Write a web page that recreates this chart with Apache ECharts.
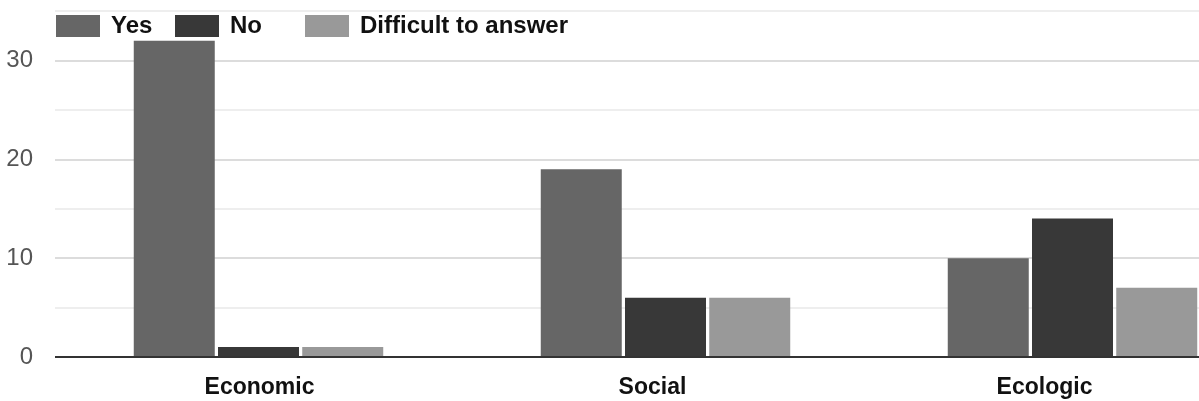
<!DOCTYPE html>
<html>
<head>
<meta charset="utf-8">
<script src="https://cdn.jsdelivr.net/npm/echarts@6/dist/echarts.min.js"></script>
<style>
  html, body { margin: 0; padding: 0; background: #fff; }
  #chart { width: 1199px; height: 401px; }
</style>
</head>
<body>
<div id="chart"></div>
<script>
const categories = ['Economic', 'Social', 'Ecologic'];
const seriesNames = ['Yes', 'No', 'Difficult to answer'];
const yesValues = [32, 19, 10];
const noValues = [1, 6, 14];
const difficultValues = [1, 6, 7];
const yTickLabels = ['0', '10', '20', '30'];

const colors = ['#666666', '#383838', '#999999'];
const legendLefts = [56, 175, 305];

const chart = echarts.init(document.getElementById('chart'));

const legendFont = {
  fontFamily: 'Liberation Sans',
  fontWeight: 'bold',
  fontSize: 24,
  color: '#111',
  padding: [0, 0, 0, 6]
};

// category labels sit slightly left of their group centre towards the right
const catLabelBase = {
  fontFamily: 'Liberation Sans',
  fontWeight: 'bold',
  fontSize: 23,
  color: '#111'
};
const catLabelStyles = {
  c0: Object.assign({}, catLabelBase, { padding: [0, 0, 0, 2] }),
  c1: Object.assign({}, catLabelBase, { padding: [0, 26, 0, 0] }),
  c2: Object.assign({}, catLabelBase, { padding: [0, 56, 0, 0] })
};

chart.setOption({
  animation: false,
  color: colors,
  legend: seriesNames.map((name, i) => ({
    data: [name],
    left: legendLefts[i],
    top: 14,
    padding: 0,
    itemWidth: 44,
    itemHeight: 22,
    icon: 'rect',
    textStyle: legendFont,
    selectedMode: false
  })),
  grid: { left: 55, top: 11, right: -77, bottom: 44, containLabel: false, outerBoundsMode: 'none' },
  xAxis: {
    type: 'category',
    data: categories,
    axisTick: { show: false },
    axisLine: { show: false },
    axisLabel: {
      margin: 19,
      fontFamily: 'Liberation Sans',
      fontWeight: 'bold',
      fontSize: 23,
      color: '#111',
      formatter: (v, i) => '{c' + i + '|' + v + '}',
      rich: catLabelStyles
    }
  },
  yAxis: {
    type: 'value',
    min: 0,
    max: 35,
    interval: 5,
    axisLine: { show: true, onZero: false, lineStyle: { color: 'transparent' } },
    axisTick: { show: false },
    axisLabel: {
      margin: 22,
      fontFamily: 'Liberation Sans',
      fontSize: 24,
      color: '#555',
      formatter: v => (yTickLabels.includes(String(v)) ? String(v) : '')
    },
    splitLine: { lineStyle: { color: ['#dcdcdc', '#eeeeee'], width: 2 } }
  },
  series: [
    { name: seriesNames[0], type: 'bar', data: yesValues, barWidth: 81, barGap: '4%' },
    { name: seriesNames[1], type: 'bar', data: noValues, barWidth: 81, barGap: '4%' },
    { name: seriesNames[2], type: 'bar', data: difficultValues, barWidth: 81, barGap: '4%',
      markLine: {
        silent: true, symbol: 'none', label: { show: false },
        lineStyle: { color: '#333', width: 2, type: 'solid' },
        data: [{ yAxis: 0 }]
      }
    }
  ]
});
</script>
</body>
</html>
